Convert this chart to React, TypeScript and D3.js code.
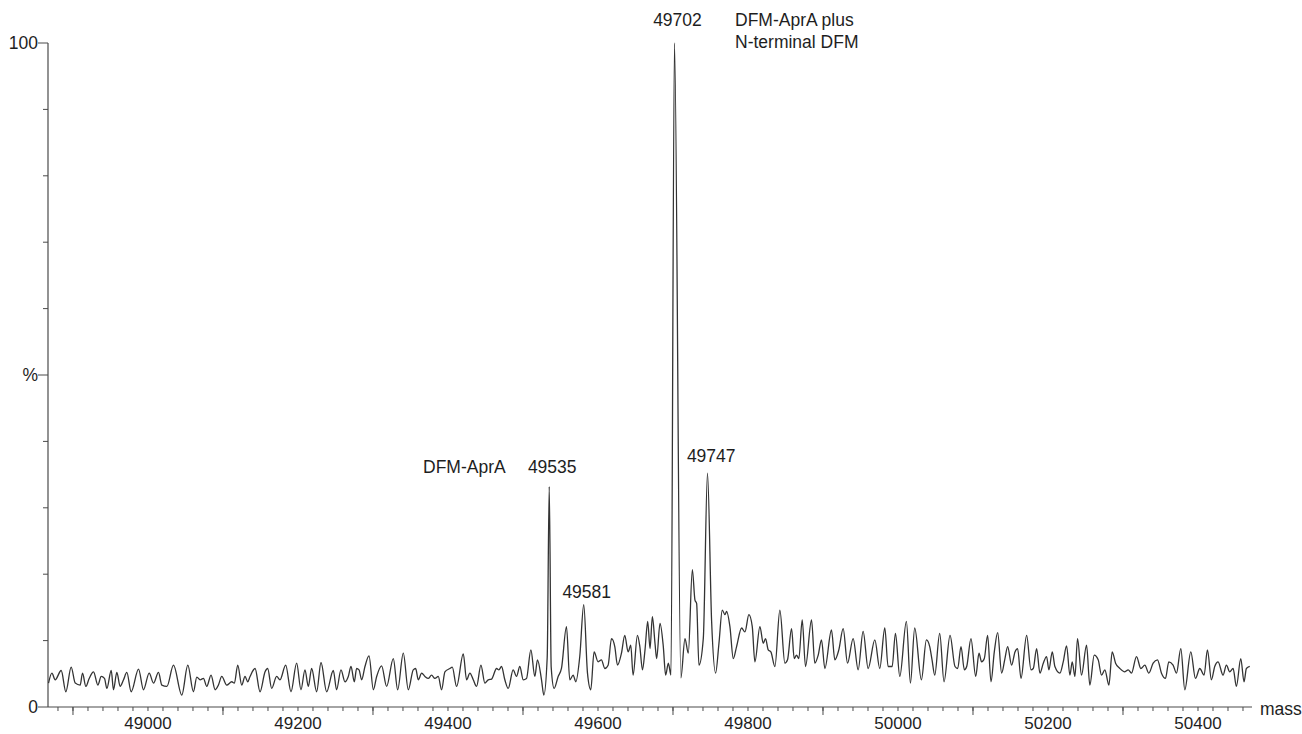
import React from 'react';
import * as d3 from 'd3';

const W = 1302;
const H = 734;

// axis domains
const massDomain: [number, number] = [48866.7, 50472];
const pctDomain: [number, number] = [0, 100];

// trace: [mass, % intensity]
const traceLow: [number, number][] = [
  [48867.4, 3.6], [48871.9, 5.1], [48876.3, 4.1], [48884.3, 5.5], [48890.5, 2.3], [48897.6, 6.0],
  [48903, 3.6], [48909.6, 3.3], [48912.7, 5.1], [48917.2, 3.1], [48921.6, 4.3], [48927.4, 5.3],
  [48933.2, 3.3], [48937.6, 4.6], [48942, 4.3], [48945.2, 2.8], [48951, 5.5], [48954, 2.6],
  [48958.5, 5.2], [48962.9, 3.1], [48967.4, 4.1], [48971.8, 5.2], [48977.6, 2.3], [48987.4, 5.7],
  [48994, 2.6], [49001.6, 5.1], [49007.4, 3.6], [49014, 5.2], [49018.5, 3.3], [49025.2, 3.1],
  [49034, 6.3], [49045.1, 1.8], [49053.1, 6.3], [49060.6, 2.3], [49065.1, 4.5], [49069.5, 4.1],
  [49073.9, 4.3], [49078.4, 3.1], [49084.1, 4.8], [49089.5, 2.6], [49093.9, 3.3], [49098.4, 4.6],
  [49105, 3.3], [49111.7, 3.8], [49115.2, 3.6], [49119.7, 6.3], [49125, 3.3], [49129.4, 4.6],
  [49133, 3.8], [49136.1, 4.6], [49142.8, 5.8], [49149.4, 2.3], [49156.1, 5.3], [49159.6, 5.8],
  [49164.9, 2.8], [49171.6, 4.6], [49176, 4.1], [49183.6, 6.3], [49190.7, 2.3], [49198.2, 6.6],
  [49204, 2.6], [49209.3, 5.6], [49213.8, 3.1], [49218.2, 5.8], [49224.9, 2.3], [49230.7, 6.7],
  [49238.2, 2.3], [49247.1, 5.5], [49251.5, 2.6], [49257.3, 5.6],
];

const traceMid: [number, number][] = [
  [49262.7, 3.8], [49267.1, 4.6], [49270.7, 6.1], [49275.1, 3.8], [49278.2, 5.8], [49281.4, 5.6],
  [49284.9, 4.1], [49289.3, 6.1], [49294.7, 7.7], [49300.5, 2.6], [49304.9, 4.6], [49311.5, 6.2],
  [49318.2, 3.1], [49327.1, 7.3], [49332.9, 2.6], [49340.4, 8.1], [49347.1, 2.6], [49353.7, 5.6],
  [49356.9, 5.8], [49360.4, 4.1], [49364.9, 5.1], [49369.3, 4.6], [49373.7, 4.3], [49378.1, 4.8],
  [49382.6, 4.3], [49387, 4.6], [49391.5, 2.6], [49395.9, 5.3], [49402.6, 5.8], [49405.7, 6.0],
  [49411.5, 3.1], [49420.4, 8.0], [49424.8, 4.1], [49429.2, 5.1], [49433.7, 4.1], [49438.1, 3.1],
  [49443.9, 6.3], [49449.2, 3.6], [49453.7, 4.1], [49458.1, 4.2], [49464.8, 5.8], [49467.9, 5.6],
  [49471.4, 6.1], [49475.8, 4.1], [49480.3, 2.8], [49486.9, 5.6], [49491.4, 4.6], [49495.8, 6.1],
  [49500.3, 4.1], [49504.7, 4.3], [49510.5, 8.6], [49515.8, 4.6], [49519.3, 7.1], [49524.7, 4.1],
  [49527.8, 1.8], [49532.3, 7.5], [49535, 33.2], [49537.6, 6.0], [49541.5, 2.8], [49546.9, 4.6],
  [49551.3, 5.8], [49558, 12.1], [49562.4, 4.1], [49566.9, 4.8], [49570.4, 3.8], [49575.7, 7.6],
  [49581, 15.4], [49586, 5.1], [49590.4, 2.6], [49594.8, 8.3], [49600.2, 6.8], [49604.6, 7.1],
  [49609.1, 5.8], [49613.5, 6.3], [49618, 10.3], [49622.4, 9.1], [49626, 6.3], [49631.3, 8.1],
  [49635.7, 10.8], [49640.2, 8.3], [49643.7, 9.3], [49646.8, 4.8], [49652.6, 10.8], [49655.8, 9.1],
  [49659.3, 5.6],
];

const traceHigh: [number, number][] = [
  [49662.7, 8.6], [49666.3, 12.9], [49669.4, 8.8], [49672.5, 13.6], [49676, 9.6], [49678.2, 7.3],
  [49682.7, 12.6], [49687.1, 9.1], [49690.2, 4.8], [49693.8, 6.6], [49697.3, 4.8], [49702, 100],
  [49710.5, 4.4], [49716, 10.3], [49720.4, 8.1], [49725.8, 20.7], [49729.3, 16.1], [49731.5, 15.6],
  [49734.6, 6.3], [49740.4, 10.3], [49746, 35.2], [49751.5, 12.9], [49756.8, 5.1], [49761.3, 9.6],
  [49765.7, 14.6], [49769.3, 13.9], [49771.5, 14.4], [49775.9, 12.1], [49780.4, 7.3], [49784.8, 9.1],
  [49791.5, 11.9], [49795.9, 11.3], [49801.2, 13.9], [49805.7, 12.1], [49809.2, 6.8], [49815.9, 12.1],
  [49820.3, 9.6], [49823.4, 10.3], [49827, 8.6], [49830.5, 8.3], [49835.9, 6.1], [49842.5, 14.6],
  [49849.2, 6.6], [49852.7, 7.1], [49858.1, 11.8], [49861.6, 7.3], [49864.7, 7.8], [49867.8, 7.3],
  [49872.3, 13.1], [49876.7, 6.1], [49884.7, 13.1], [49889.1, 6.6], [49893.6, 7.8], [49898, 10.1],
  [49902.5, 5.8], [49911.3, 11.6], [49915.8, 7.1], [49921.1, 8.6], [49926.9, 11.8], [49932.7, 6.6],
  [49940.2, 10.3], [49946.9, 5.6], [49953.5, 11.4], [49960.2, 5.8], [49969.1, 10.1], [49975.7, 5.8],
  [49982.4, 11.9], [49986.8, 6.1], [49992.2, 6.1], [49996.6, 11.1], [50002.4, 4.6], [50011.2, 12.9],
  [50016.6, 3.6], [50022.3, 11.9], [50031.2, 4.1], [50037.9, 10.1], [50042.3, 9.1], [50045.4, 7.1],
  [50049, 4.8], [50055.6, 11.1], [50061.4, 3.8],
];

const traceTail: [number, number][] = [
  [50069.4, 10.8], [50076, 6.1], [50079.6, 5.8], [50084, 9.1], [50088.5, 5.6], [50091.6, 6.1],
  [50097.3, 10.3], [50103.6, 4.6], [50108, 8.1], [50111.5, 6.8], [50115.1, 7.3], [50119.5, 10.8],
  [50124, 3.8], [50128.4, 8.3], [50132.9, 11.2], [50138.2, 5.1], [50142.6, 7.3], [50146.2, 9.1],
  [50151.5, 6.3], [50156, 8.3], [50159.5, 8.8], [50164, 4.3], [50171.5, 10.8], [50177.3, 5.6],
  [50180.4, 5.8], [50184.8, 8.8], [50189.3, 5.1], [50193.7, 6.6], [50198.1, 7.6], [50201.2, 5.6],
  [50205.7, 8.3], [50209.2, 6.1], [50215.9, 5.1], [50220.3, 6.8], [50224.8, 9.2], [50229.2, 4.8],
  [50232.3, 6.8], [50235.9, 4.6], [50239.4, 10.3], [50244.7, 4.8], [50251.4, 9.3], [50255.8, 3.3],
  [50261.6, 7.8], [50266.9, 7.1], [50271.4, 4.8], [50275.8, 5.6], [50281.2, 3.3], [50285.6, 8.3],
  [50290.1, 6.6], [50295.8, 5.8], [50302.5, 5.3], [50306.9, 5.6], [50311.3, 5.1], [50318, 7.6],
  [50323.8, 5.8], [50329.1, 6.3], [50334.4, 5.1], [50340.2, 6.6], [50346, 7.1], [50351.3, 5.1],
  [50356.6, 4.3], [50361.1, 6.8], [50366.8, 6.3], [50371.3, 5.1], [50377.1, 8.8], [50382.4, 2.6],
  [50390.4, 8.3], [50396.6, 4.3], [50402.4, 5.8], [50408.1, 4.8], [50412.6, 8.6], [50417.9, 4.1],
  [50422.3, 6.1], [50426.8, 6.8], [50433.4, 4.8], [50437.9, 6.3], [50442.3, 5.3], [50446.8, 5.8],
  [50451.2, 3.1], [50457, 7.3], [50461.4, 3.8], [50464.5, 5.8], [50469, 6.1],
];

// axis ticks
const yTickValues = [0, 10, 20, 30, 40, 50, 60, 70, 80, 90, 100];
const yTickLabels: { v: number; t: string }[] = [
  { v: 0, t: '0' },
  { v: 50, t: '%' },
  { v: 100, t: '100' },
];
const xLabelValues = [49000, 49200, 49400, 49600, 49800, 50000, 50200, 50400];
const xMinorStart = 48880;
const xMinorStep = 20;
const xMajorStart = 48900;
const xMajorStep = 200;

// peak annotations
const peakLabels: { mass: number; text: string; y: number }[] = [
  { mass: 49702, text: '49702', y: 26 },
  { mass: 49535, text: '49535', y: 473 },
  { mass: 49581, text: '49581', y: 598 },
  { mass: 49747, text: '49747', y: 462 },
];

const FONT = '"Liberation Sans", Arial, Helvetica, sans-serif';
const FS = 17.5;

export default function App() {
  const x = d3.scaleLinear().domain(massDomain).range([48, 1252]);
  const y = d3.scaleLinear().domain(pctDomain).range([707, 43]);

  const trace = [...traceLow, ...traceMid, ...traceHigh, ...traceTail];
  const line = d3
    .line<[number, number]>()
    .x((d) => x(d[0]))
    .y((d) => y(d[1]))
    .curve(d3.curveMonotoneX);

  const minorTicks = d3.range(xMinorStart, massDomain[1], xMinorStep);
  const majorTicks = d3.range(xMajorStart, massDomain[1], xMajorStep);
  const axisColor = '#4a4a4a';
  const textColor = '#1e1e1e';

  return (
    <svg
      width={W}
      height={H}
      style={{ position: 'absolute', left: 0, top: 0, background: '#ffffff' }}
      fontFamily={FONT}
    >
      <rect x={0} y={0} width={W} height={H} fill="#fff" />
      {/* y axis */}
      <line x1={x(massDomain[0])} x2={x(massDomain[0])} y1={y(100)} y2={y(0)} stroke={axisColor} strokeWidth={1.2} />
      {yTickValues.map((v) => {
        const labeled = yTickLabels.some((l) => l.v === v);
        return (
          <line
            key={'yt' + v}
            x1={x(massDomain[0]) - (labeled ? 10 : 5)}
            x2={x(massDomain[0])}
            y1={y(v)}
            y2={y(v)}
            stroke={axisColor}
            strokeWidth={1}
          />
        );
      })}
      {yTickLabels.map((l) => (
        <text
          key={'yl' + l.v}
          x={x(massDomain[0]) - 10}
          y={y(l.v) + 6}
          textAnchor="end"
          fontSize={FS}
          fill={textColor}
        >
          {l.t}
        </text>
      ))}
      {/* x axis */}
      <line x1={x(massDomain[0])} x2={1252} y1={y(0)} y2={y(0)} stroke={axisColor} strokeWidth={1.2} />
      {minorTicks.map((m) => (
        <line key={'xm' + m} x1={x(m)} x2={x(m)} y1={y(0)} y2={y(0) + 4} stroke={axisColor} strokeWidth={1} />
      ))}
      {majorTicks.map((m) => (
        <line key={'xM' + m} x1={x(m)} x2={x(m)} y1={y(0)} y2={y(0) + 8} stroke={axisColor} strokeWidth={1} />
      ))}
      {xLabelValues.map((m) => (
        <text key={'xl' + m} x={x(m)} y={729} textAnchor="middle" fontSize={17} fill={textColor}>
          {m}
        </text>
      ))}
      <text x={1260} y={715} fontSize={FS} fill={textColor}>
        mass
      </text>
      {/* spectrum trace */}
      <path d={line(trace) || ''} fill="none" stroke="#333333" strokeWidth={1.3} strokeLinejoin="round" />
      {/* peak labels */}
      {peakLabels.map((p) => (
        <text key={p.text} x={x(p.mass) + 3} y={p.y} textAnchor="middle" fontSize={FS} fill={textColor}>
          {p.text}
        </text>
      ))}
      <text x={423} y={473} fontSize={FS} fill={textColor}>
        DFM-AprA
      </text>
      <text x={735} y={26} fontSize={FS} fill={textColor}>
        DFM-AprA plus
      </text>
      <text x={735} y={48} fontSize={FS} fill={textColor}>
        N-terminal DFM
      </text>
    </svg>
  );
}
